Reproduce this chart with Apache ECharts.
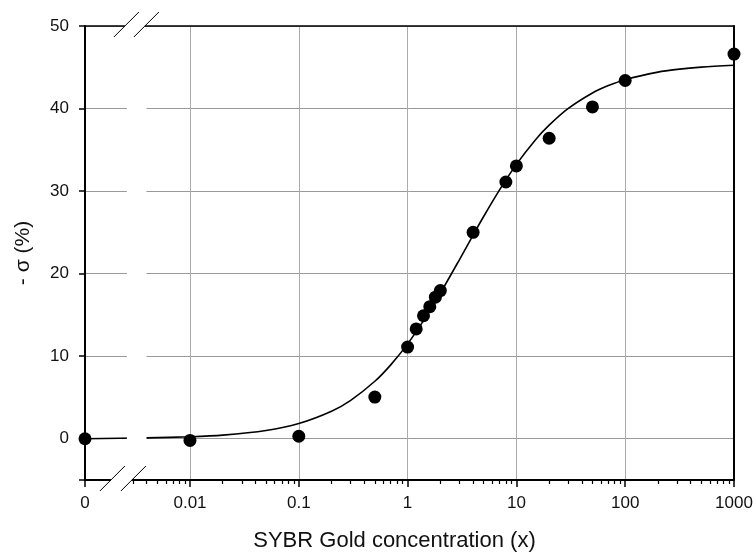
<!DOCTYPE html>
<html>
<head>
<meta charset="utf-8">
<script src="https://cdn.jsdelivr.net/npm/echarts@6/dist/echarts.min.js"></script>
<style>
  html, body { margin: 0; padding: 0; background: #fff; }
  #chart { width: 756px; height: 557px; }
</style>
</head>
<body>
<div id="chart"></div>
<script>
// measured points: SYBR Gold concentration (x) vs -sigma (%)
var pointX = [0, 0.01, 0.1, 0.5, 1, 1.2, 1.4, 1.6, 1.8, 2, 4, 8, 10, 20, 50, 100, 1000];
var pointY = [0, -0.2, 0.3, 5.05, 11.1, 13.3, 14.9, 16.0, 17.15, 17.95, 25.0, 31.1, 33.05, 36.4, 40.2, 43.4, 46.6];

// fitted curve
var curveX = [0, 0.004, 0.01, 0.02, 0.05, 0.1, 0.2, 0.3, 0.5, 0.7, 1, 1.5, 2, 3, 4, 5, 7, 10, 15, 20, 30, 50, 70, 100, 200, 300, 500, 1000];
var curveY = [0, 0.1, 0.24, 0.44, 1.0, 1.84, 3.33, 4.65, 6.96, 8.95, 11.49, 14.92, 17.63, 21.71, 24.67, 26.92, 30.14, 33.24, 36.23, 37.99, 40.02, 41.89, 42.78, 43.5, 44.41, 44.74, 45.02, 45.24];

// x tick labels
var tickX = [0, 0.01, 0.1, 1, 10, 100, 1000];
var tickLabels = ['0', '0.01', '0.1', '1', '10', '100', '1000'];
var yTicks = [0, 10, 20, 30, 40, 50];

// broken axis: 0 sits left of the break, the rest is log10
var ZERO_POS = -2.965;
var BREAK_FROM = -2.58, BREAK_TO = -2.40;
function pos(x) { return x === 0 ? ZERO_POS : Math.log10(x); }

var majorPos = tickX.map(pos);
var minorPos = [];
for (var n = -3; n <= 2; n++) {
    for (var k = 2; k <= 9; k++) {
        var v = Math.log10(k * Math.pow(10, n));
        if (v > -2.53) minorPos.push(v);
    }
}

var FONT = 'Arial, "Liberation Sans", sans-serif';
var chart = echarts.init(document.getElementById('chart'));

var option = {
    animation: false,
    backgroundColor: '#fff',
    grid: { left: 85, right: 22, top: 26, bottom: 76, show: false },
    xAxis: [{
        type: 'value', min: ZERO_POS, max: 3, position: 'bottom',
        axisLine: { show: true, onZero: false, lineStyle: { color: '#000', width: 2 } },
        axisTick: { show: true, customValues: majorPos, length: 7, lineStyle: { color: '#000', width: 1.5 } },
        axisLabel: {
            customValues: majorPos, margin: 15, color: '#111', fontSize: 17, fontFamily: FONT,
            formatter: function (v) {
                for (var i = 0; i < majorPos.length; i++) {
                    if (Math.abs(majorPos[i] - v) < 1e-6) return tickLabels[i];
                }
                return '';
            }
        },
        splitLine: { show: true, lineStyle: { color: '#aaa', width: 1 } },
        name: 'SYBR Gold concentration (x)', nameLocation: 'middle', nameGap: 50,
        nameTextStyle: { color: '#111', fontSize: 22, fontFamily: FONT, padding: [0, 30, 0, 0] }
    }, {
        type: 'value', min: ZERO_POS, max: 3, position: 'bottom',
        axisLine: { show: false, onZero: false },
        axisTick: { show: true, customValues: minorPos, length: 4, lineStyle: { color: '#000', width: 1.2 } },
        axisLabel: { show: false },
        splitLine: { show: false }
    }, {
        type: 'value', min: ZERO_POS, max: 3, position: 'top',
        axisLine: { show: true, onZero: false, lineStyle: { color: '#000', width: 1.5 } },
        axisTick: { show: false }, axisLabel: { show: false }, splitLine: { show: false }
    }],
    yAxis: [{
        type: 'value', min: -5, max: 50, position: 'left',
        axisLine: { show: true, onZero: false, lineStyle: { color: '#000', width: 2 } },
        axisTick: { show: true, customValues: [-5].concat(yTicks), length: 6, lineStyle: { color: '#000', width: 1.5 } },
        axisLabel: { customValues: yTicks, margin: 16, color: '#111', fontSize: 17, fontFamily: FONT },
        splitLine: { show: true, lineStyle: { color: '#999', width: 1 } },
        name: '- σ (%)', nameLocation: 'middle', nameRotate: 90, nameGap: 51,
        nameTextStyle: { color: '#111', fontSize: 21, fontFamily: FONT }
    }, {
        type: 'value', min: -5, max: 50, position: 'right',
        axisLine: { show: true, onZero: false, lineStyle: { color: '#000', width: 2 } },
        axisTick: { show: false }, axisLabel: { show: false }, splitLine: { show: false }
    }],
    series: [{
        type: 'line',
        data: curveX.map(function (x, i) { return [pos(x), curveY[i]]; }),
        showSymbol: false, smooth: 0.3,
        lineStyle: { color: '#000', width: 1.6 },
        z: 3
    }, {
        type: 'scatter',
        data: pointX.map(function (x, i) { return [pos(x), pointY[i]]; }),
        symbol: 'circle', symbolSize: 13,
        itemStyle: { color: '#000', opacity: 1 },
        z: 5
    }]
};
chart.setOption(option);

// axis break decoration, placed through the axis scales
var xa = chart.convertToPixel({ xAxisIndex: 0 }, BREAK_FROM);
var xb = chart.convertToPixel({ xAxisIndex: 0 }, BREAK_TO);
var yTop = chart.convertToPixel({ yAxisIndex: 0 }, 50);
var yBot = chart.convertToPixel({ yAxisIndex: 0 }, -5);

function slash(cx, cy) {
    return { type: 'line', z: 101, shape: { x1: cx - 11, y1: cy + 11, x2: cx + 14, y2: cy - 14 },
             style: { stroke: '#000', lineWidth: 1 } };
}
function white(x, y, w, h) {
    return { type: 'rect', z: 100, shape: { x: x, y: y, width: w, height: h }, style: { fill: '#fff' } };
}
chart.setOption({
    graphic: [
        white(xa, yTop + 2, xb - xa, yBot - yTop - 4),
        white(xa - 2, yTop - 3, 20, 6),
        white(xa - 16, yBot - 3, 21, 6),
        slash(xa - 2, yTop), slash(xa + 18, yTop),
        slash(xa - 16, yBot), slash(xa + 5, yBot)
    ]
});
</script>
</body>
</html>
